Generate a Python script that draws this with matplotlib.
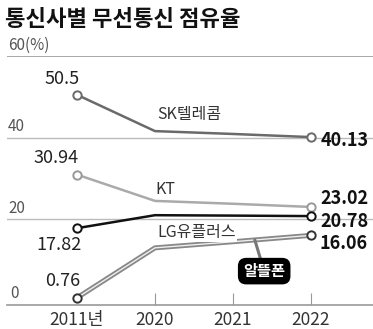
"""
통신사별 무선통신 점유율 — 2011년 vs 2020~2022
산출물: out.png
"""
import numpy as np
import matplotlib
matplotlib.use("Agg")
import matplotlib.pyplot as plt

plt.rcParams["font.family"] = ["Noto Sans CJK KR", "DejaVu Sans"]

YEARS = ["2011년", "2020", "2021", "2022"]
SK = [50.5, 41.6, 40.9, 40.13]
KT = [30.94, 24.5, 23.8, 23.02]
LG = [17.82, 21.0, 20.9, 20.78]
MVNO = [0.76, 13.0, 14.5, 16.06]
YTICKS = [0, 20, 40, 60]

xs = np.arange(len(YEARS))

fig = plt.figure(figsize=(3.73, 3.29), dpi=100)
ax = fig.add_axes([7 / 373, 24 / 329, 366 / 373, 249 / 329])
ax.set_xlim(-0.897, 3.795)
ax.set_ylim(-1, 60)

# 격자선 + 왼쪽 눈금 글자
for v in YTICKS[1:]:
    ax.axhline(v, color="#999999" if v == 60 else "#bbbbbb", lw=1.2 if v == 60 else 1.0, zorder=0)
    ax.annotate(f"{v}(%)" if v == 60 else str(v), xy=(0, v), xycoords=("axes fraction", "data"),
                xytext=(1, 11), textcoords="offset pixels", ha="left", va="center",
                fontsize=11, fontweight="medium", color="#555555")
ax.annotate("0", xy=(0, 0), xycoords=("axes fraction", "data"), xytext=(3, 7),
            textcoords="offset pixels", ha="left", va="center", fontsize=11,
            fontweight="medium", color="#555555")

for s in ["top", "right", "left"]:
    ax.spines[s].set_visible(False)
ax.spines["bottom"].set_color("#999999")
ax.spines["bottom"].set_linewidth(1.2)
ax.set_yticks([])
ax.set_xticks(xs, YEARS)
ax.tick_params(axis="x", direction="in", length=9, width=0.8, color="#999999",
               labelsize=12.5, labelcolor="#333333", pad=4.5)
ax.xaxis.get_major_ticks()[0].tick1line.set_visible(False)

# 처음/끝에만 동그라미
mk = dict(marker="o", markevery=[0, len(YEARS) - 1], markersize=6,
          markerfacecolor="white", markeredgewidth=1.4)
ax.plot(xs, SK, color="#6a6a6a", lw=1.8, markeredgecolor="#6a6a6a", zorder=3, **mk)
ax.plot(xs, KT, color="#aaaaaa", lw=1.8, markeredgecolor="#999999", zorder=3, **mk)
ax.plot(xs, LG, color="#111111", lw=1.8, markeredgecolor="#111111", zorder=3, **mk)
ax.plot(xs, MVNO, color="#888888", lw=3.6, solid_capstyle="butt", zorder=3)
ax.plot(xs, MVNO, color="#eeeeee", lw=1.0, zorder=3)
ax.plot(xs, MVNO, color="none", markeredgecolor="#333333", zorder=4, **mk)

# 값 라벨
left_off = {"SK": (-15, 16), "KT": (-21, 17), "LG": (-18, -17), "MVNO": (-14, 17)}
right_off = {"SK": (10, -3), "KT": (9, 8), "LG": (9, -5), "MVNO": (9, -8)}
series = {"SK": SK, "KT": KT, "LG": LG, "MVNO": MVNO}
for k, vals in series.items():
    ax.annotate(f"{vals[0]:g}", xy=(xs[0], vals[0]), xytext=left_off[k], textcoords="offset pixels",
                ha="center", va="center", fontsize=13, fontweight="medium", color="#222222")
    ax.annotate(f"{vals[-1]:.2f}", xy=(xs[-1], vals[-1]), xytext=right_off[k], textcoords="offset pixels",
                ha="left", va="center", fontsize=13, fontweight="bold", color="#111111")

# 통신사 이름
name_kw = dict(ha="left", va="center", fontsize=11.5, fontweight="medium", color="#333333",
               bbox=dict(fc="white", ec="none", pad=0.5))
ax.text(1.03, 45.6, "SK텔레콤", **name_kw)
ax.text(1.0, 27.2, "KT", **name_kw)
ax.text(1.03, 16.7, "LG유플러스", **name_kw)

lx = 2.28
ax.annotate("알뜰폰", xy=(lx, np.interp(lx, xs, MVNO)), xytext=(2.40, 7.3),
            ha="center", va="center", fontsize=11, fontweight="bold", color="white",
            bbox=dict(boxstyle="round,pad=0.3,rounding_size=0.5", fc="black", ec="black"),
            arrowprops=dict(arrowstyle="-", color="#777777", lw=2.2, shrinkA=0, shrinkB=0),
            zorder=5)

fig.text(5 / 373, 1 - 19 / 329, "통신사별 무선통신 점유율", ha="left", va="center",
         fontsize=16, fontweight="bold", color="#111111")

fig.savefig("out.png", dpi=100)
